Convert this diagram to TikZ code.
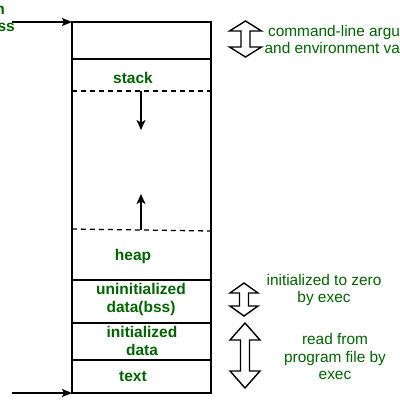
\documentclass[tikz,border=0pt]{standalone}
\usepackage{fontspec}
\setmainfont{Liberation Sans}
\usetikzlibrary{arrows.meta}
\definecolor{dkgreen}{RGB}{0,100,0}
\begin{document}
\begin{tikzpicture}[x=1pt,y=-1pt,
  seg/.style={draw, line width=1.5pt, minimum width=139pt, inner sep=0pt, outer sep=0pt},
  lbl/.style={text=dkgreen, font=\fontsize{15.5}{18}\selectfont\bfseries, align=center, inner sep=0pt},
  note/.style={text=dkgreen, font=\fontsize{15.4}{17.5}\selectfont, align=center, inner sep=0pt},
  ptr/.style={line width=1.4pt, -{Stealth[length=10pt,width=8pt,inset=2pt]}},
  growth/.style={line width=1.3pt, -{Stealth[length=10pt,width=9pt,inset=2.5pt]}},
  split/.style={line width=1.3pt, dash pattern=on 5pt off 4pt},
  blk/.style={draw, fill=white, line width=1.4pt, line join=miter},
  pics/dbl/.style args={#1/#2/#3}{code={
    \draw[blk] (0,0) -- (#3,#2) -- (4.5,#2) -- (4.5,#1-#2) -- (#3,#1-#2) -- (0,#1)
      -- (-#3,#1-#2) -- (-4.5,#1-#2) -- (-4.5,#2) -- (-#3,#2) -- cycle;}}
]
\useasboundingbox (0,0) rectangle (400,400);
% memory segments
\node[seg, minimum height=37pt] (top) at (141.5,40.5) {};
\node[seg, minimum height=221pt] (mid) at (141.5,169.5) {};
\node[seg, minimum height=43pt] (bss) at (141.5,301.5) {};
\node[seg, minimum height=37pt] (init) at (141.5,341.5) {};
\node[seg, minimum height=33pt] (txt) at (141.5,376.5) {};
% dashed borders of stack and heap
\coordinate (d1l) at (72,91);  \coordinate (d1r) at (212,91);
\coordinate (d2l) at (72,229); \coordinate (d2r) at (212,231);
\draw[split] (d1l) -- (d1r);
\draw[split] (d2l) -- (d2r);
% growth arrows
\coordinate (sA) at (141,91);  \coordinate (sB) at (141,130);
\coordinate (hA) at (141,230); \coordinate (hB) at (141,194);
\draw[growth] (sA) -- (sB);
\draw[growth] (hA) -- (hB);
% labels
\node[lbl] (lstack) at (133,78) {stack};
\node[lbl] (lheap) at (133,256) {heap};
\node[lbl] (lbss) at (141,299) {uninitialized\\data(bss)};
\node[lbl] (linit) at (142,341) {initialized\\data};
\node[lbl] (ltext) at (133,377) {text};
% address pointers
\node[lbl, anchor=east] (hi1) at (5,10) {n};
\node[lbl, anchor=east] (hi2) at (15,27) {ss};
\coordinate (hiS) at (12,22);
\coordinate (loS) at (12,393);
\draw[ptr] (hiS) -- (top.north west);
\draw[ptr] (loS) -- (txt.south west);
% block double arrows
\pic at (245.5,21) {dbl=36/10/16};
\pic at (244,283) {dbl=33/10/14};
\pic at (245,323) {dbl=65/17/15};
% notes
\node[note] (n1) at (355,39.5) {command-line arguments\\and environment variables};
\node[note] (n2) at (324,290) {initialized to zero\\by exec};
\node[note] (n3) at (335,356.5) {read from\\program file by\\exec};
\end{tikzpicture}
\end{document}
